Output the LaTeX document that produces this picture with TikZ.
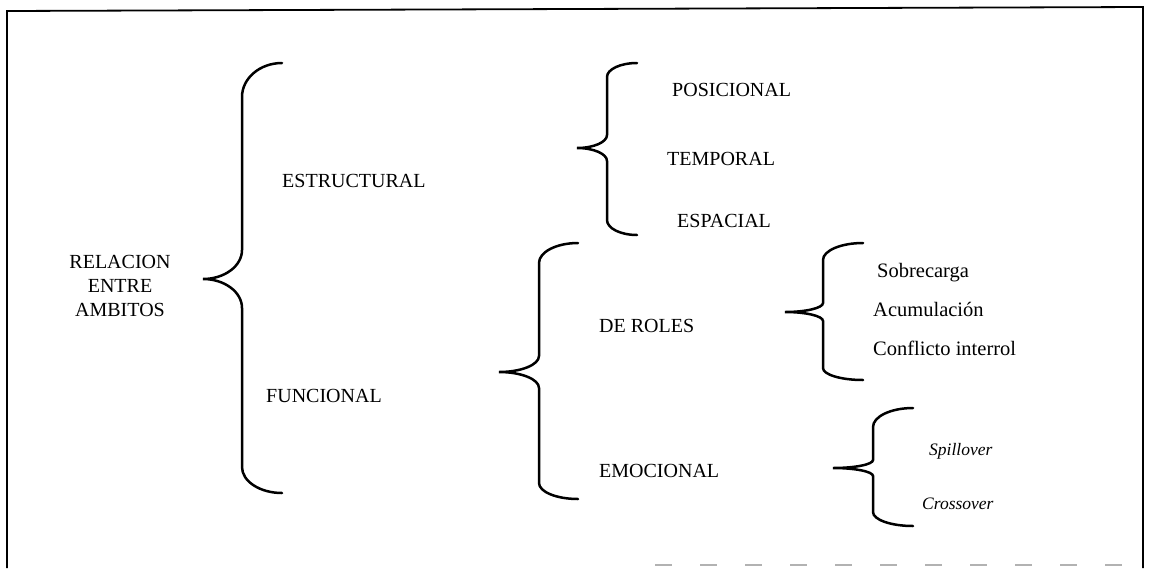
\documentclass[tikz,border=0pt]{standalone}
\usepackage{fontspec}
\setmainfont{Liberation Serif}
\newcommand\brc[9]{%
 \draw[brace] (#1,#4) .. controls ({#1-0.552*(#1-#2)},#4) and (#2,{#4+#5-0.552*#5}) .. (#2,{#4+#5})
 -- (#2,{#6-#7}) .. controls (#2,{#6-#7+0.552*#7}) and ({#3+0.552*(#2-#3)},#6) .. (#3,#6)
 .. controls ({#3+0.552*(#2-#3)},#6) and (#2,{#6+#7-0.552*#7}) .. (#2,{#6+#7})
 -- (#2,{#8-#9}) .. controls (#2,{#8-#9+0.552*#9}) and ({#1-0.552*(#1-#2)},#8) .. (#1,#8);}
\begin{document}
\begin{tikzpicture}[x=1pt,y=-1pt,
  brace/.style={line width=2.5pt, line cap=round},
  frame/.style={line width=1.8pt},
  captext/.style={anchor=base west, inner sep=0pt, font=\fontsize{20}{24}\selectfont},
  lowtext/.style={anchor=base west, inner sep=0pt, font=\fontsize{20.5}{24}\selectfont},
  italtext/.style={anchor=base west, inner sep=0pt, font=\fontsize{17.5}{20}\selectfont\itshape}]
\useasboundingbox (0,0) rectangle (1151,568);
% frame
\coordinate (tl) at (7,11);
\coordinate (tr) at (1143,7);
\coordinate (bl) at (7,568);
\coordinate (br) at (1143,568);
\coordinate (dl) at (655,565);
\coordinate (dr) at (1143,565);
\draw[frame] (bl) -- (tl) -- (tr) -- (br);
\draw[line width=1.5pt, gray!60, dash pattern=on 17pt off 28pt] (dl) -- (dr);
% braces
\brc{282}{242}{203}{63}{34}{279}{29}{493}{26}
\brc{578}{539}{499}{243}{20}{372}{16}{499}{16}
\brc{637}{607}{577}{63}{14}{148}{13}{235}{15}
\brc{863}{823}{785}{243}{17}{312}{9}{380}{12}
\brc{913}{873}{833}{408}{19}{468}{8}{526}{14}
% texts
\node[inner sep=0pt, align=center, font=\fontsize{20}{24}\selectfont] (rel) at (120,285.5) {RELACION\\ENTRE\\AMBITOS};
\node[captext] (est) at (282,187) {ESTRUCTURAL};
\node[captext] (fun) at (266,402) {FUNCIONAL};
\node[captext] (pos) at (672,96) {POSICIONAL};
\node[captext] (tem) at (667,165) {TEMPORAL};
\node[captext] (esp) at (677,227) {ESPACIAL};
\node[captext] (rol) at (599,332) {DE ROLES};
\node[captext] (emo) at (599,477) {EMOCIONAL};
\node[lowtext] (sob) at (877,277) {Sobrecarga};
\node[lowtext] (acu) at (873,316) {Acumulación};
\node[lowtext] (con) at (873,355) {Conflicto interrol};
\node[italtext] (spi) at (929,455) {Spillover};
\node[italtext] (cro) at (922,509) {Crossover};
\end{tikzpicture}
\end{document}
